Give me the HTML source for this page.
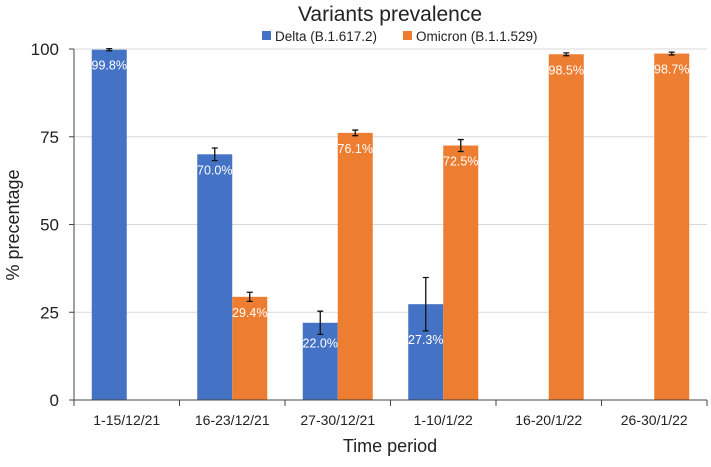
<!DOCTYPE html>
<html><head><meta charset="utf-8"><style>
body{margin:0;background:#fff;font-family:"Liberation Sans",sans-serif;}
</style></head><body>
<svg id="chart" width="711" height="462" xmlns="http://www.w3.org/2000/svg">
<text x="390" y="21" font-size="21" text-anchor="middle" fill="#222">Variants prevalence</text>
<g>
<rect x="262" y="31" width="9" height="9" fill="#4472c4"/>
<text x="275" y="41" font-size="13.5" fill="#222">Delta (B.1.617.2)</text>
<rect x="403" y="31" width="9" height="9" fill="#ed7d31"/>
<text x="416" y="41" font-size="13.5" fill="#222">Omicron (B.1.1.529)</text>
</g>
<text transform="translate(19,225) rotate(-90)" font-size="18" text-anchor="middle" fill="#222">% precentage</text>
<text x="390" y="452" font-size="18" text-anchor="middle" fill="#222">Time period</text>
<g id="grid"></g><g id="bars"></g><g id="axes"></g>
</svg>
<script>
const categories=["1-15/12/21","16-23/12/21","27-30/12/21","1-10/1/22","16-20/1/22","26-30/1/22"];
const deltaValues=[99.8,70.0,22.0,27.3,null,null];
const deltaErrors=[0.3,1.8,3.3,7.6,null,null];
const omicronValues=[null,29.4,76.1,72.5,98.5,98.7];
const omicronErrors=[null,1.3,0.8,1.7,0.4,0.4];
const yTicks=[0,25,50,75,100];
const NS="http://www.w3.org/2000/svg";
const x0=74,x1=707,yTop=49,yBot=400;
const bw=(x1-x0)/categories.length;
const y=v=>yBot-(v/100)*(yBot-yTop);
const xc=i=>x0+bw*(i+0.5);
function mk(tag,attrs,parent){const e=document.createElementNS(NS,tag);for(const k in attrs)e.setAttribute(k,attrs[k]);parent.appendChild(e);return e;}
const grid=document.getElementById('grid'),bars=document.getElementById('bars'),axes=document.getElementById('axes');
yTicks.forEach(t=>{
 if(t>0){const g=mk('line',{x1:x0,x2:x1,y1:y(t),y2:y(t),stroke:'#d9d9d9','stroke-width':1},grid);
 
 }
 const tk=mk('line',{x1:x0-5,x2:x0,y1:y(t),y2:y(t),stroke:'#444'},axes);
 
 
 const l=mk('text',{x:x0-15,y:y(t)+6,'font-size':17,'text-anchor':'end',fill:'#222'},axes);l.textContent=t;
 
 
});
const ax=mk('line',{x1:x0,x2:x0,y1:yTop,y2:yBot,stroke:'#444'},axes);


const xa=mk('line',{x1:x0,x2:x1,y1:yBot,y2:yBot,stroke:'#444'},axes);


for(let i=0;i<=categories.length;i++){const t=mk('line',{x1:x0+bw*i,x2:x0+bw*i,y1:yBot,y2:yBot+6,stroke:'#444'},axes);
 
 }
categories.forEach((c,i)=>{const l=mk('text',{x:xc(i),y:yBot+25,'font-size':14,'text-anchor':'middle',fill:'#222'},axes);l.textContent=c;
 
 });
const W=35;
function series(vals,errs,color,off,name){
 vals.forEach((v,i)=>{if(v==null)return;
  const bx=xc(i)+off;
  const r=mk('rect',{x:bx,y:y(v),width:W,height:yBot-y(v),fill:color},bars);
  
  
  const cx=bx+W/2,e=errs[i];
  const eb=mk('path',{d:`M${cx},${y(v+e)}V${y(v-e)}M${cx-3},${y(v+e)}H${cx+3}M${cx-3},${y(v-e)}H${cx+3}`,stroke:'#111','stroke-width':1.3,fill:'none'},bars);
  
  
  const t=mk('text',{x:cx,y:y(v)+Math.max(20,(y(v-e)-y(v))+13),'font-size':12.5,'text-anchor':'middle',fill:'#fff'},bars);
  t.textContent=v.toFixed(1)+'%';
  
  
 });
}
series(deltaValues,deltaErrors,'#4472c4',-W,'delta');
series(omicronValues,omicronErrors,'#ed7d31',0,'omicron');
</script>
</body></html>
